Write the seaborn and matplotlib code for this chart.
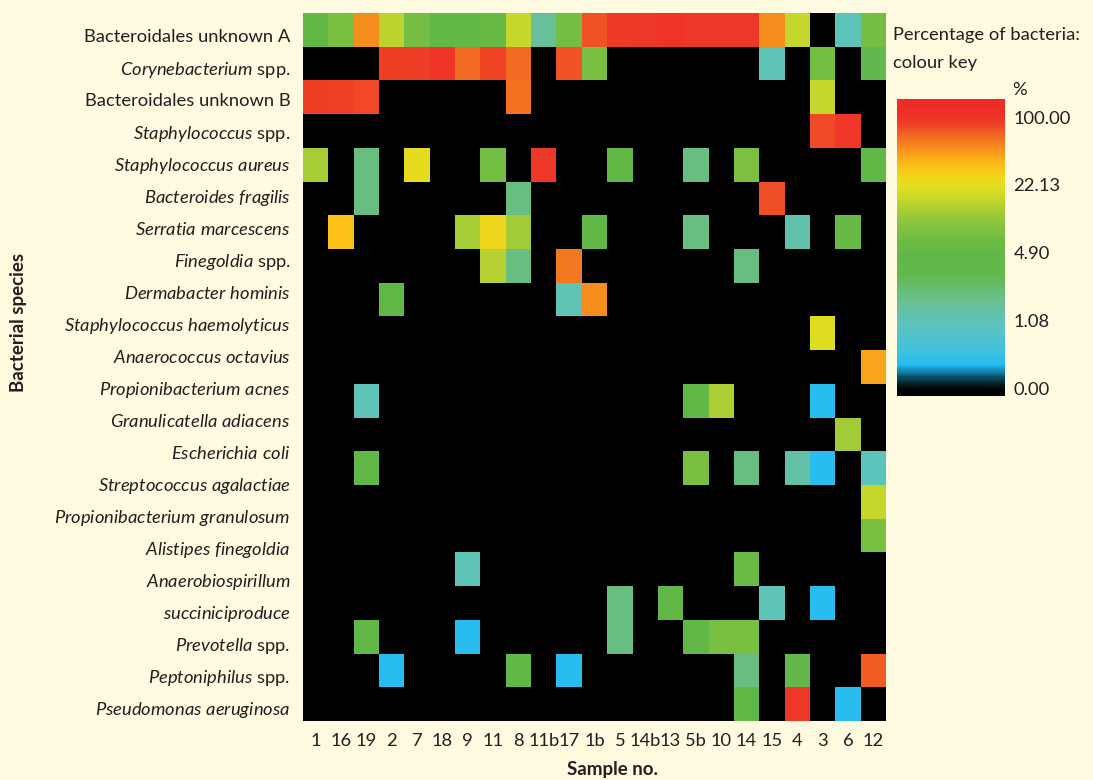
import numpy as np
import pandas as pd
import matplotlib
matplotlib.use("Agg")
import matplotlib.pyplot as plt
import seaborn as sns
from matplotlib.colors import LinearSegmentedColormap, LogNorm
from matplotlib.ticker import NullLocator

# ---- data -------------------------------------------------------------
samples = ["1", "16", "19", "2", "7", "18", "9", "11", "8", "11b", "17", "1b",
           "5", "14b", "13", "5b", "10", "14", "15", "4", "3", "6", "12"]

# species names as printed on the axis (one line each)
species_labels = [
    "Bacteroidales unknown A",
    r"$\mathit{Corynebacterium}$ spp.",
    "Bacteroidales unknown B",
    r"$\mathit{Staphylococcus}$ spp.",
    r"$\mathit{Staphylococcus\ aureus}$",
    r"$\mathit{Bacteroides\ fragilis}$",
    r"$\mathit{Serratia\ marcescens}$",
    r"$\mathit{Finegoldia}$ spp.",
    r"$\mathit{Dermabacter\ hominis}$",
    r"$\mathit{Staphylococcus\ haemolyticus}$",
    r"$\mathit{Anaerococcus\ octavius}$",
    r"$\mathit{Propionibacterium\ acnes}$",
    r"$\mathit{Granulicatella\ adiacens}$",
    r"$\mathit{Escherichia\ coli}$",
    r"$\mathit{Streptococcus\ agalactiae}$",
    r"$\mathit{Propionibacterium\ granulosum}$",
    r"$\mathit{Alistipes\ finegoldia}$",
    r"$\mathit{Anaerobiospirillum}$",
    r"$\mathit{succiniciproduce}$",
    r"$\mathit{Prevotella}$ spp.",
    r"$\mathit{Peptoniphilus}$ spp.",
    r"$\mathit{Pseudomonas\ aeruginosa}$",
]

# percentage of bacteria per sample (0 = not detected), heatmap rows top to bottom
bacteroidales_a = [4.5, 7.5, 50, 15, 7, 4.5, 5, 5.5, 16, 1.5, 7, 75, 93, 95, 98, 95, 96, 95, 50, 16, 0, 1.0, 7]
corynebacterium = [0, 0, 0, 88, 88, 99, 64, 83, 64, 0, 76, 7.5, 0, 0, 0, 0, 0, 0, 1.05, 0, 7, 0, 3]
bacteroidales_b = [88, 86, 80, 0, 0, 0, 0, 0, 62, 0, 0, 0, 0, 0, 0, 0, 0, 0, 0, 0, 16, 0, 0]
staphylococcus = [0, 0, 0, 0, 0, 0, 0, 0, 0, 0, 0, 0, 0, 0, 0, 0, 0, 0, 0, 0, 80, 95, 0]
s_aureus = [12.5, 0, 1.9, 0, 23, 0, 0, 7, 0, 95, 0, 0, 4.5, 0, 0, 1.9, 0, 8, 0, 0, 0, 0, 4.5]
b_fragilis = [0, 0, 1.9, 0, 0, 0, 0, 0, 1.9, 0, 0, 0, 0, 0, 0, 0, 0, 0, 77, 0, 0, 0, 0]
s_marcescens = [0, 33, 0, 0, 0, 0, 12.5, 26, 12, 0, 0, 4.5, 0, 0, 0, 1.9, 0, 0, 0, 1.2, 0, 5.5, 0]
finegoldia = [0, 0, 0, 0, 0, 0, 0, 14, 1.9, 0, 58, 0, 0, 0, 0, 0, 0, 1.9, 0, 0, 0, 0, 0]
d_hominis = [0, 0, 0, 4.5, 0, 0, 0, 0, 0, 0, 1.1, 50, 0, 0, 0, 0, 0, 0, 0, 0, 0, 0, 0]
s_haemolyticus = [0, 0, 0, 0, 0, 0, 0, 0, 0, 0, 0, 0, 0, 0, 0, 0, 0, 0, 0, 0, 21, 0, 0]
a_octavius = [0, 0, 0, 0, 0, 0, 0, 0, 0, 0, 0, 0, 0, 0, 0, 0, 0, 0, 0, 0, 0, 0, 43]
p_acnes = [0, 0, 1.05, 0, 0, 0, 0, 0, 0, 0, 0, 0, 0, 0, 0, 4.5, 13, 0, 0, 0, 0.42, 0, 0]
g_adiacens = [0, 0, 0, 0, 0, 0, 0, 0, 0, 0, 0, 0, 0, 0, 0, 0, 0, 0, 0, 0, 0, 12, 0]
e_coli = [0, 0, 4.5, 0, 0, 0, 0, 0, 0, 0, 0, 0, 0, 0, 0, 7.5, 0, 1.9, 0, 1.3, 0.42, 0, 1.0]
s_agalactiae = [0, 0, 0, 0, 0, 0, 0, 0, 0, 0, 0, 0, 0, 0, 0, 0, 0, 0, 0, 0, 0, 0, 16]
p_granulosum = [0, 0, 0, 0, 0, 0, 0, 0, 0, 0, 0, 0, 0, 0, 0, 0, 0, 0, 0, 0, 0, 0, 7.5]
a_finegoldia = [0, 0, 0, 0, 0, 0, 1.05, 0, 0, 0, 0, 0, 0, 0, 0, 0, 0, 6, 0, 0, 0, 0, 0]
a_succiniciproducens = [0, 0, 0, 0, 0, 0, 0, 0, 0, 0, 0, 0, 1.9, 0, 4.5, 0, 0, 0, 1.05, 0, 0.42, 0, 0]
prevotella = [0, 0, 4.5, 0, 0, 0, 0.42, 0, 0, 0, 0, 0, 1.9, 0, 0, 4.8, 7.5, 7.5, 0, 0, 0, 0, 0]
peptoniphilus = [0, 0, 0, 0.42, 0, 0, 0, 0, 4.5, 0, 0.42, 0, 0, 0, 0, 0, 0, 1.9, 0, 3.5, 0, 0, 72]
p_aeruginosa = [0, 0, 0, 0, 0, 0, 0, 0, 0, 0, 0, 0, 0, 0, 0, 0, 0, 4.5, 0, 95, 0, 0.42, 0]

# colour key
key_ticks = [0.2388, 1.08, 4.90, 22.13, 100.0]
key_labels = ["0.00", "1.08", "4.90", "22.13", "100.00"]

rows = [bacteroidales_a, corynebacterium, bacteroidales_b, staphylococcus, s_aureus,
        b_fragilis, s_marcescens, finegoldia, d_hominis, s_haemolyticus, a_octavius,
        p_acnes, g_adiacens, e_coli, s_agalactiae, p_granulosum, a_finegoldia,
        a_succiniciproducens, prevotella, peptoniphilus, p_aeruginosa]
df = pd.DataFrame(rows, columns=samples)

# ---- style ------------------------------------------------------------
BG = "#FFFBE0"
TXT = "#231F20"
sns.set_style("white")
plt.rcParams["font.family"] = ["Lato", "DejaVu Sans"]
plt.rcParams["mathtext.fontset"] = "custom"
plt.rcParams["mathtext.rm"] = "Lato"
plt.rcParams["mathtext.it"] = "Lato:italic"
plt.rcParams["mathtext.bf"] = "Lato:bold"
plt.rcParams["text.color"] = TXT

stops = [
    (0.000, "#000000"), (0.020, "#000000"), (0.040, "#052028"), (0.062, "#0A5068"),
    (0.085, "#1690BC"), (0.107, "#26BDEF"), (0.141, "#3CC0E0"), (0.198, "#52C2CC"),
    (0.250, "#5EC4B8"), (0.277, "#62C2A8"), (0.322, "#6AC08E"), (0.367, "#66BC6C"),
    (0.410, "#62B84A"), (0.480, "#62B847"), (0.525, "#6CBC44"), (0.570, "#84C240"),
    (0.616, "#A0CA38"), (0.661, "#C4D62C"), (0.706, "#E2DE20"), (0.740, "#F0D41B"),
    (0.774, "#FCC016"), (0.810, "#F9A61A"), (0.840, "#F58A1F"), (0.876, "#F26A22"),
    (0.910, "#EF4526"), (0.943, "#EE3127"), (1.000, "#EE2A26"),
]
cmap = LinearSegmentedColormap.from_list("key", stops)
cmap.set_bad("black")

W, H = 1093, 780
fig = plt.figure(figsize=(W / 100, H / 100), dpi=100, facecolor=BG)
ax = fig.add_axes([303 / W, 1 - 721 / H, 583 / W, 708 / H])
cax = fig.add_axes([897 / W, 1 - 396 / H, 108 / W, 297 / H])
ax.set_facecolor("black")

sns.heatmap(df, ax=ax, cbar_ax=cax, cmap=cmap, norm=LogNorm(vmin=0.2, vmax=150),
            mask=(df == 0), xticklabels=samples, yticklabels=False,
            linewidths=0, rasterized=False)

# species names are spread evenly down the axis
n_rows = len(rows)
ax.set_yticks(np.linspace(0.674, 20.61, len(species_labels)))
ax.set_yticklabels(species_labels, fontsize=13.2, color=TXT)
ax.tick_params(axis="y", length=0, pad=9)
ax.tick_params(axis="x", length=0, pad=9, labelsize=13.2, labelcolor=TXT, rotation=0)
ax.set_xlabel("")
ax.set_ylabel("")
for s in ax.spines.values():
    s.set_visible(False)

cbar = ax.collections[0].colorbar
cbar.outline.set_visible(False)
cbar.set_ticks(key_ticks)
cbar.set_ticklabels(key_labels)
cax.yaxis.set_minor_locator(NullLocator())
cax.tick_params(length=0, pad=6, labelsize=13.2, labelcolor=TXT)

fig.text(893 / W, 1 - 35 / H, "Percentage of bacteria:", fontsize=13.2, va="center", ha="left")
fig.text(893 / W, 1 - 63 / H, "colour key", fontsize=13.2, va="center", ha="left")
fig.text(1012 / W, 1 - 90 / H, "%", fontsize=13.2, va="center", ha="left")
fig.text(19 / W, 1 - 322 / H, "Bacterial species", fontsize=13.5, fontweight="bold",
         rotation=90, va="center", ha="center")
fig.text(612 / W, 1 - 770 / H, "Sample no.", fontsize=13.5, fontweight="bold",
         va="center", ha="center")

fig.savefig("out.png", dpi=100, facecolor=BG)
